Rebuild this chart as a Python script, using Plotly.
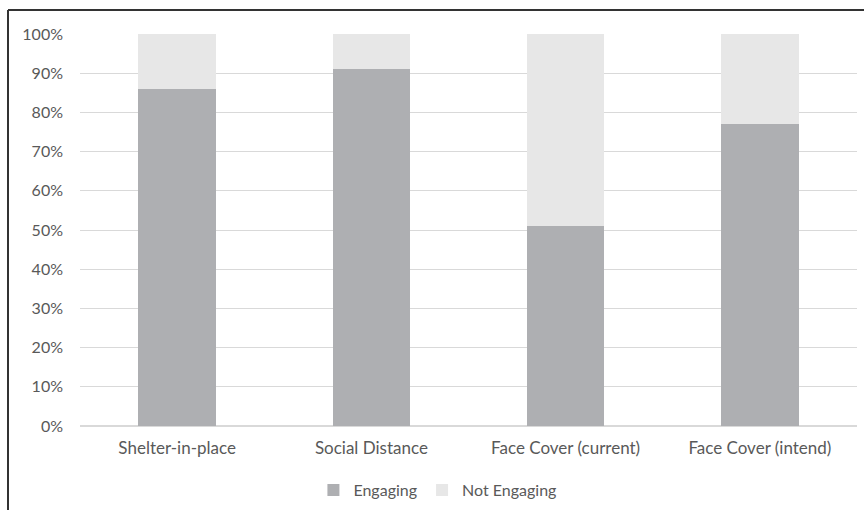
import plotly.graph_objects as go

categories = ["Shelter-in-place", "Social Distance", "Face Cover (current)", "Face Cover (intend)"]
engaging = [86, 91, 51, 77]
not_engaging = [14, 9, 49, 23]
y_ticks = [0, 10, 20, 30, 40, 50, 60, 70, 80, 90, 100]
y_tick_labels = [f"{v}%" for v in y_ticks]

W, H = 864, 510
L, R, T, B = 80, 7, 34, 84
pw, ph = W - L - R, H - T - B

fig = go.Figure()
fig.add_trace(go.Bar(x=categories, y=engaging, name="Engaging",
                     marker=dict(color="#AEAFB2", line=dict(width=0))))
fig.add_trace(go.Bar(x=categories, y=not_engaging, name="Not Engaging",
                     marker=dict(color="#E7E7E7", line=dict(width=0))))

font_family = "Lato, Open Sans, sans-serif"
fs = 16
fig.update_layout(
    width=W, height=H,
    barmode="stack", bargap=0.6,
    margin=dict(l=L, r=R, t=T, b=B, autoexpand=False),
    paper_bgcolor="white", plot_bgcolor="white",
    font=dict(family=font_family, size=fs, color="#595959"),
    legend=dict(orientation="h", x=0.46, xanchor="center",
                y=(H - B - 490) / ph, yanchor="middle",
                font=dict(size=fs, color="#595959"),
                itemwidth=30, traceorder="normal"),
    xaxis=dict(showgrid=False, ticks="", tickfont=dict(size=17, color="#595959"),
               showline=False, ticklabelstandoff=10),
    yaxis=dict(range=[0, 100], tickvals=y_ticks, ticktext=y_tick_labels,
               showgrid=True, gridcolor="#D9D9D9", gridwidth=1,
               zeroline=True, zerolinecolor="#D9D9D9", zerolinewidth=1.5,
               tickfont=dict(size=fs, color="#595959"), ticks="",
               ticklabelstandoff=16),
    shapes=[
        dict(type="line", xref="paper", yref="paper",
             x0=(8 - L) / pw, x1=(W - L + 5) / pw,
             y0=(H - B - 10) / ph, y1=(H - B - 10) / ph,
             line=dict(color="#333333", width=2)),
        dict(type="line", xref="paper", yref="paper",
             x0=(8 - L) / pw, x1=(8 - L) / pw,
             y0=(H - B - 10) / ph, y1=(H - B - H - 5) / ph,
             line=dict(color="#333333", width=2)),
    ],
)

fig.write_html("out.html")
